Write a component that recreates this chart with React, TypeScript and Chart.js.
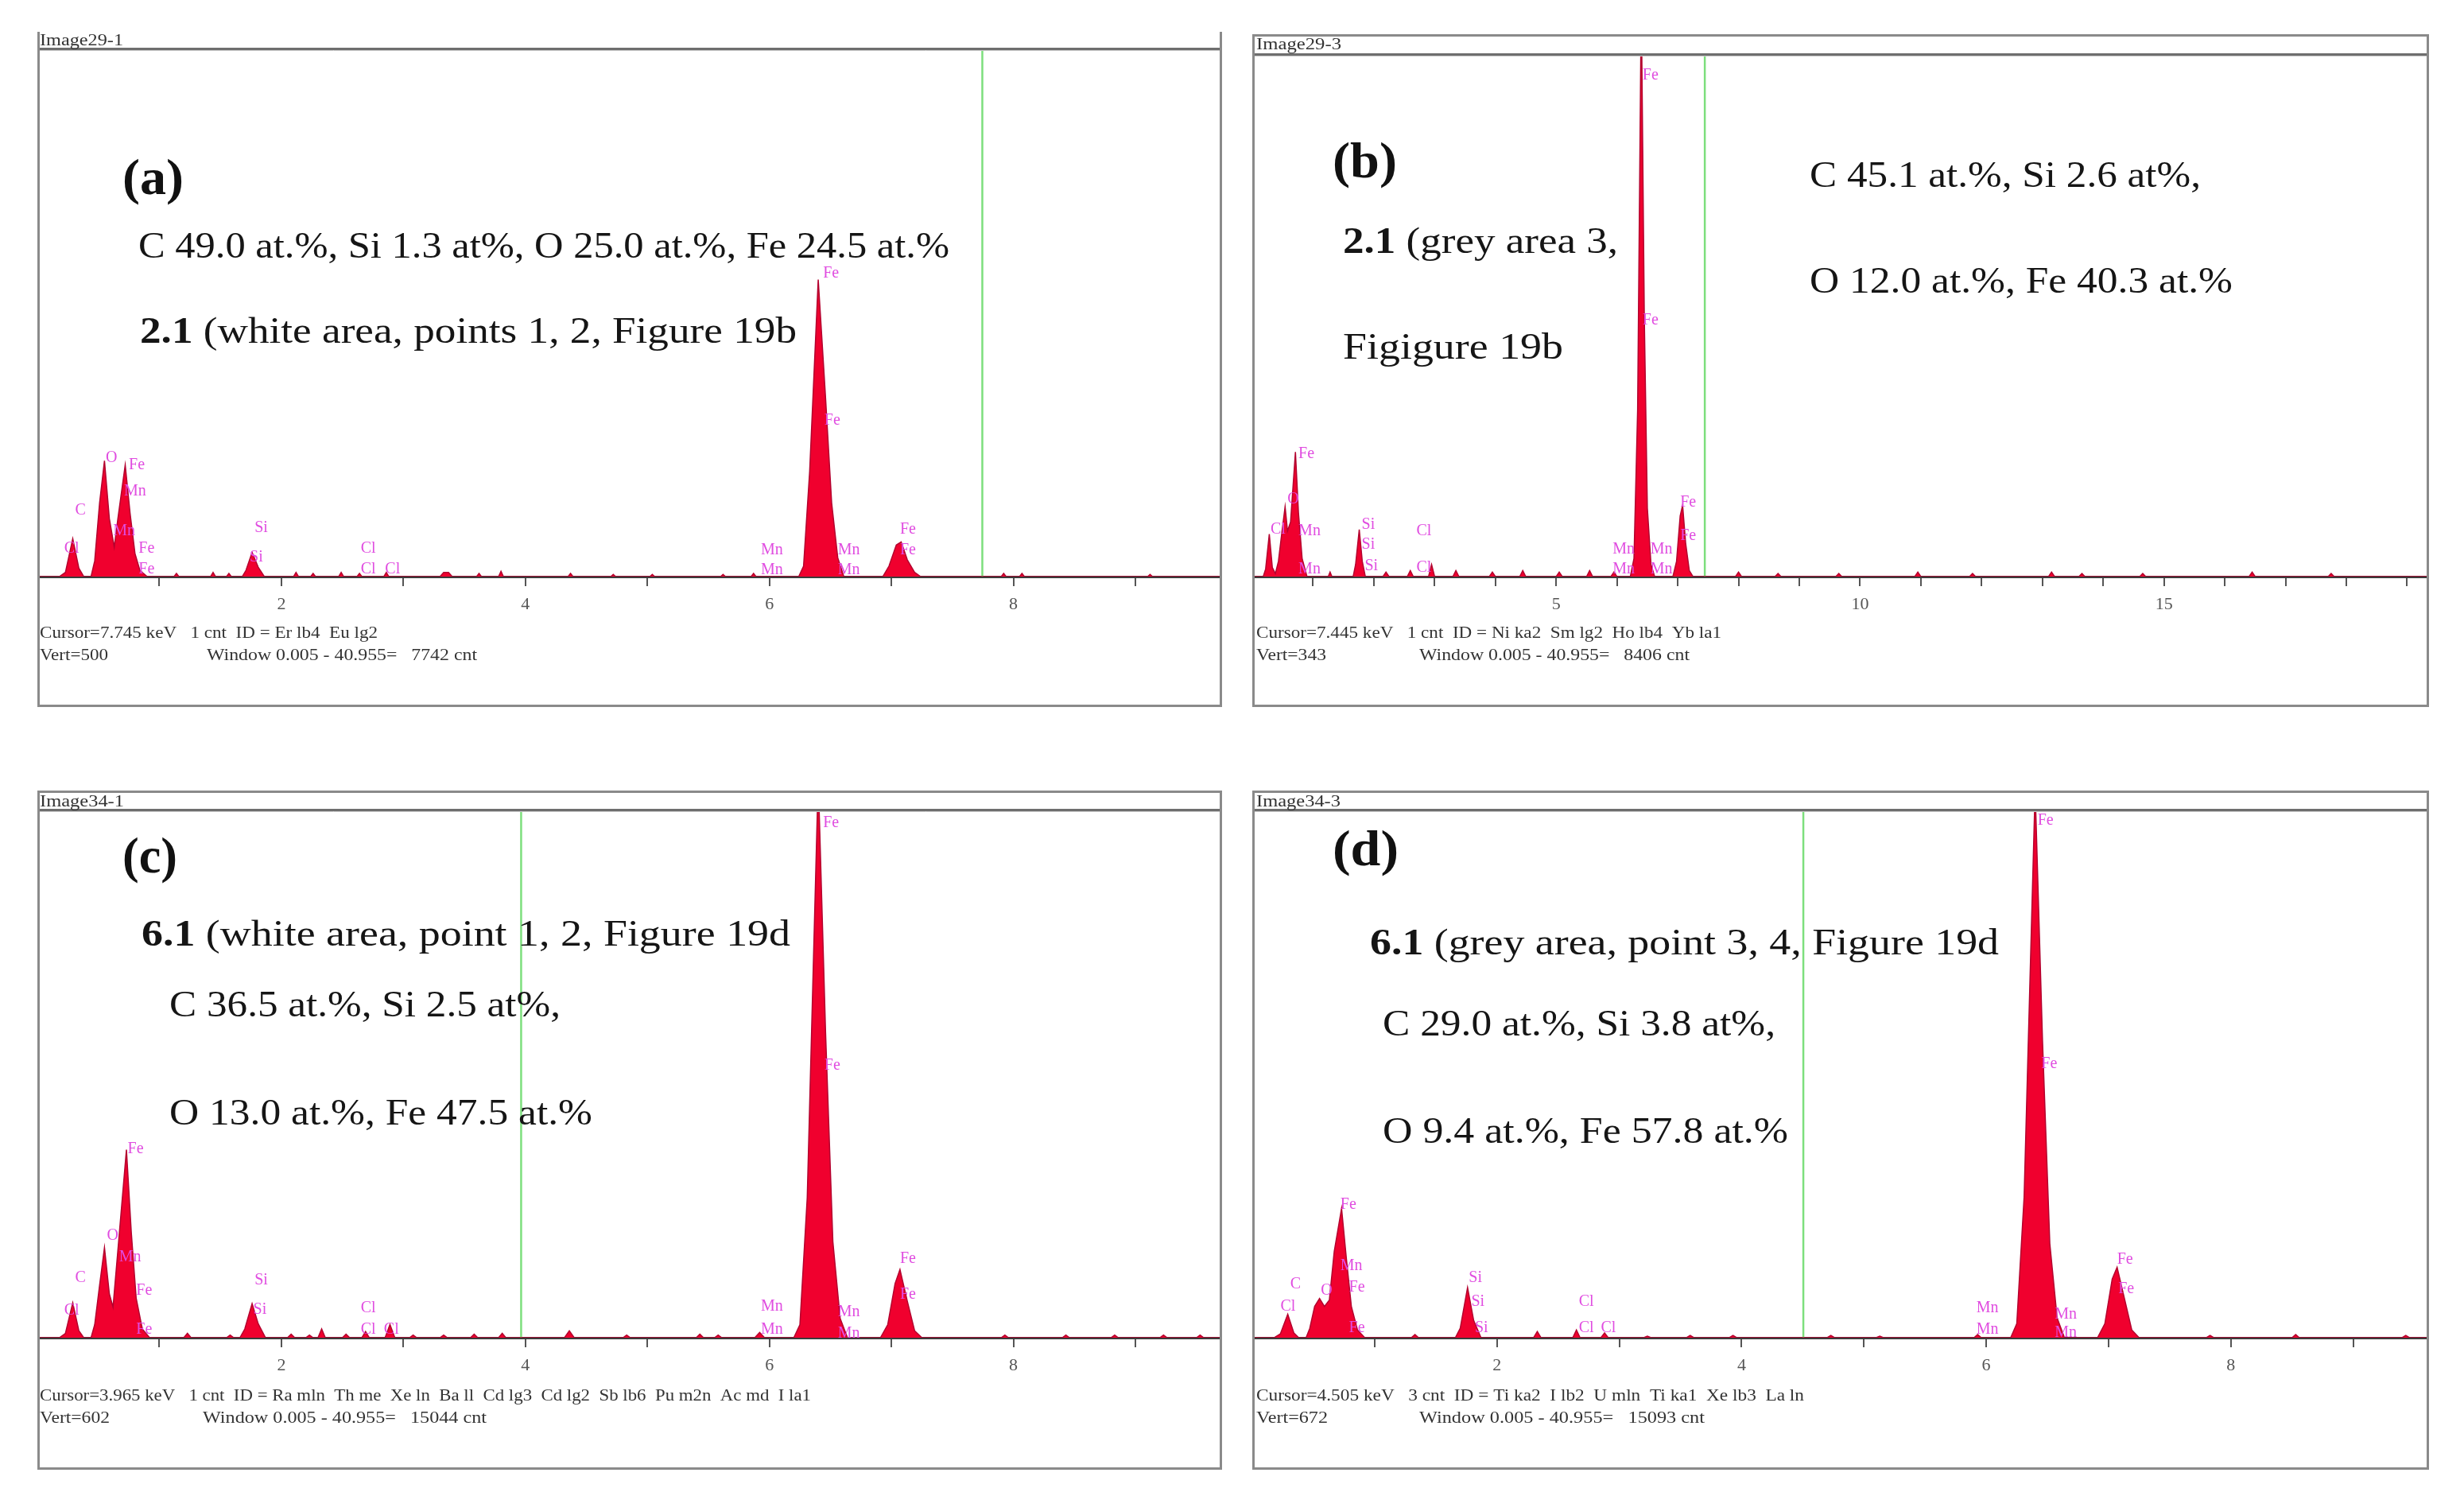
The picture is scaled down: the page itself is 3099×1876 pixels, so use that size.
import React, { useEffect, useRef } from "react";
import { Chart, registerables } from "chart.js";
Chart.register(...registerables);

type Pt = [number, number];
type Lbl = [string, number, number];
type Part = [string, boolean];

// ---------------- DATA ----------------
const spectrumA: Pt[] = [
  [0, 0], [0.18, 0], [0.23, 4], [0.29, 36], [0.34, 8], [0.38, 0],
  [0.44, 0], [0.47, 15], [0.51, 70], [0.55, 110], [0.59, 55], [0.63, 28], [0.66, 55], [0.72, 106], [0.76, 60], [0.8, 22], [0.84, 6], [0.9, 0],
  [1.12, 0], [1.14, 3], [1.16, 0], [1.42, 0], [1.44, 4], [1.46, 0], [1.55, 0], [1.57, 3], [1.59, 0],
  [1.68, 0], [1.71, 6], [1.76, 23], [1.81, 9], [1.86, 0],
  [2.1, 0], [2.12, 4], [2.14, 0], [2.24, 0], [2.26, 3], [2.28, 0], [2.47, 0], [2.49, 4], [2.51, 0], [2.62, 0], [2.64, 3], [2.66, 0], [2.84, 0], [2.86, 4], [2.88, 0],
  [3.3, 0], [3.33, 4], [3.37, 4], [3.4, 0], [3.6, 0], [3.62, 3], [3.64, 0], [3.78, 0], [3.8, 5], [3.82, 0], [4.35, 0], [4.37, 3], [4.39, 0],
  [4.7, 0], [4.72, 2], [4.74, 0], [5.02, 0], [5.04, 2], [5.06, 0], [5.6, 0], [5.62, 2], [5.64, 0], [5.85, 0], [5.87, 3], [5.89, 0],
  [6.24, 0], [6.28, 10], [6.33, 100], [6.4, 282], [6.46, 170], [6.51, 70], [6.56, 18], [6.61, 0],
  [6.93, 0], [6.98, 10], [7.04, 30], [7.08, 33], [7.13, 16], [7.19, 4], [7.24, 0],
  [7.9, 0], [7.92, 3], [7.94, 0], [8.05, 0], [8.07, 3], [8.09, 0], [9.1, 0], [9.12, 2], [9.14, 0], [9.71, 0],
];

const spectrumB: Pt[] = [
  [0, 0], [0.18, 0], [0.22, 5], [0.28, 28], [0.33, 6], [0.38, 2], [0.43, 10], [0.49, 30], [0.54, 46], [0.58, 30], [0.63, 36], [0.71, 82], [0.76, 42], [0.82, 12], [0.9, 0],
  [1.25, 0], [1.28, 3], [1.31, 0],
  [1.66, 0], [1.7, 8], [1.76, 31], [1.81, 10], [1.86, 0],
  [2.15, 0], [2.2, 3], [2.25, 0], [2.55, 0], [2.6, 4], [2.65, 0], [2.9, 0], [2.95, 8], [3.0, 0], [3.3, 0], [3.35, 4], [3.4, 0],
  [3.9, 0], [3.95, 3], [4.0, 0], [4.4, 0], [4.45, 4], [4.5, 0], [5.0, 0], [5.05, 3], [5.1, 0], [5.5, 0], [5.55, 4], [5.6, 0], [5.9, 0], [5.95, 3], [6.0, 0],
  [6.22, 0], [6.28, 12], [6.34, 110], [6.4, 380], [6.45, 170], [6.5, 45], [6.56, 8], [6.62, 0],
  [6.92, 0], [6.98, 10], [7.04, 40], [7.08, 47], [7.13, 22], [7.19, 4], [7.25, 0],
  [7.95, 0], [8.0, 3], [8.05, 0], [8.6, 0], [8.65, 2], [8.7, 0], [9.6, 0], [9.65, 2], [9.7, 0], [10.9, 0], [10.95, 3], [11.0, 0],
  [11.8, 0], [11.85, 2], [11.9, 0], [13.1, 0], [13.15, 3], [13.2, 0], [13.6, 0], [13.65, 2], [13.7, 0], [14.6, 0], [14.65, 2], [14.7, 0],
  [16.4, 0], [16.45, 3], [16.5, 0], [17.7, 0], [17.75, 2], [17.8, 0], [19.36, 0],
];

const spectrumC: Pt[] = [
  [0, 0], [0.18, 0], [0.23, 5], [0.29, 40], [0.34, 8], [0.38, 0],
  [0.44, 0], [0.47, 15], [0.51, 60], [0.55, 103], [0.59, 50], [0.62, 35], [0.66, 100], [0.73, 215], [0.77, 120], [0.81, 45], [0.86, 10], [0.92, 0],
  [1.2, 0], [1.23, 5], [1.26, 0], [1.55, 0], [1.58, 3], [1.61, 0],
  [1.66, 0], [1.7, 10], [1.76, 39], [1.81, 16], [1.87, 0],
  [2.05, 0], [2.08, 4], [2.11, 0], [2.2, 0], [2.23, 3], [2.26, 0], [2.3, 0], [2.33, 10], [2.36, 0], [2.5, 0], [2.53, 4], [2.56, 0],
  [2.66, 0], [2.69, 7], [2.72, 0], [2.85, 0], [2.89, 15], [2.93, 0], [3.05, 0], [3.08, 3], [3.11, 0],
  [3.3, 0], [3.33, 3], [3.36, 0], [3.55, 0], [3.58, 4], [3.61, 0], [3.78, 0], [3.81, 5], [3.84, 0], [4.32, 0], [4.36, 8], [4.4, 0],
  [4.8, 0], [4.83, 3], [4.86, 0], [5.4, 0], [5.43, 4], [5.46, 0], [5.55, 0], [5.58, 3], [5.61, 0], [5.88, 0], [5.92, 6], [5.96, 0],
  [6.2, 0], [6.25, 15], [6.31, 160], [6.4, 640], [6.46, 350], [6.52, 110], [6.58, 22], [6.64, 0],
  [6.91, 0], [6.97, 15], [7.03, 62], [7.07, 78], [7.13, 42], [7.19, 8], [7.25, 0],
  [7.9, 0], [7.93, 3], [7.96, 0], [8.4, 0], [8.43, 3], [8.46, 0], [8.8, 0], [8.83, 3], [8.86, 0], [9.2, 0], [9.23, 3], [9.26, 0], [9.5, 0], [9.53, 3], [9.56, 0], [9.71, 0],
];

const spectrumD: Pt[] = [
  [0, 0], [0.18, 0], [0.23, 5], [0.29, 30], [0.34, 6], [0.38, 0],
  [0.44, 0], [0.47, 12], [0.51, 40], [0.55, 50], [0.59, 40], [0.63, 48], [0.67, 110], [0.73, 165], [0.77, 100], [0.81, 40], [0.86, 10], [0.92, 0],
  [1.3, 0], [1.33, 4], [1.36, 0],
  [1.66, 0], [1.7, 12], [1.76, 64], [1.81, 22], [1.87, 0],
  [2.3, 0], [2.33, 8], [2.36, 0], [2.62, 0], [2.65, 10], [2.68, 0], [2.85, 0], [2.88, 6], [2.91, 0],
  [3.2, 0], [3.23, 2], [3.26, 0], [3.55, 0], [3.58, 3], [3.61, 0], [3.9, 0], [3.93, 3], [3.96, 0], [4.7, 0], [4.73, 3], [4.76, 0],
  [5.1, 0], [5.13, 2], [5.16, 0], [5.9, 0], [5.93, 4], [5.96, 0],
  [6.2, 0], [6.25, 18], [6.31, 180], [6.4, 700], [6.46, 380], [6.52, 120], [6.58, 25], [6.64, 0],
  [6.91, 0], [6.97, 18], [7.03, 75], [7.07, 90], [7.13, 50], [7.19, 10], [7.25, 0],
  [7.8, 0], [7.83, 3], [7.86, 0], [8.5, 0], [8.53, 4], [8.56, 0], [9.4, 0], [9.43, 3], [9.46, 0], [9.62, 0],
];

// element labels: [text, keV, counts]
const peakLabelsA: Lbl[] = [
  ["C", 0.31, 63], ["Cl", 0.22, 27], ["O", 0.56, 113], ["Fe", 0.75, 106], ["Mn", 0.71, 81], ["Mn", 0.62, 43],
  ["Fe", 0.83, 27], ["Fe", 0.83, 7], ["Si", 1.78, 46], ["Si", 1.74, 18], ["Cl", 2.65, 27], ["Cl", 2.65, 7], ["Cl", 2.85, 7],
  ["Mn", 5.93, 25], ["Mn", 5.93, 6], ["Fe", 6.44, 288], ["Fe", 6.45, 148], ["Mn", 6.56, 25], ["Mn", 6.56, 6],
  ["Fe", 7.07, 45], ["Fe", 7.07, 25],
];
const peakLabelsB: Lbl[] = [
  ["Fe", 6.42, 330], ["Fe", 6.42, 169], ["Fe", 0.76, 81], ["O", 0.58, 51], ["Cl", 0.3, 31], ["Mn", 0.76, 30], ["Mn", 0.76, 5],
  ["Si", 1.8, 34], ["Si", 1.8, 21], ["Si", 1.85, 7], ["Cl", 2.7, 30], ["Cl", 2.7, 6],
  ["Mn", 5.93, 18], ["Mn", 5.93, 5], ["Mn", 6.55, 18], ["Mn", 6.55, 5], ["Fe", 7.04, 49], ["Fe", 7.04, 27],
];
const peakLabelsC: Lbl[] = [
  ["Fe", 6.44, 589], ["Fe", 6.45, 311], ["Fe", 0.74, 216], ["O", 0.57, 117], ["Mn", 0.67, 92], ["C", 0.31, 68], ["Cl", 0.22, 31],
  ["Fe", 0.81, 54], ["Fe", 0.81, 9], ["Si", 1.78, 66], ["Si", 1.77, 32], ["Cl", 2.65, 34], ["Cl", 2.65, 9], ["Cl", 2.84, 9],
  ["Mn", 5.93, 36], ["Mn", 5.93, 9], ["Mn", 6.56, 29], ["Mn", 6.56, 5], ["Fe", 7.07, 90], ["Fe", 7.07, 49],
];
const peakLabelsD: Lbl[] = [
  ["Fe", 6.42, 660], ["Fe", 6.45, 349], ["Fe", 0.72, 170], ["Mn", 0.72, 92], ["Fe", 0.79, 64], ["O", 0.56, 60], ["C", 0.31, 68],
  ["Cl", 0.23, 40], ["Fe", 0.79, 12], ["Si", 1.77, 76], ["Si", 1.79, 46], ["Si", 1.82, 12], ["Cl", 2.67, 46], ["Cl", 2.67, 12],
  ["Cl", 2.85, 12], ["Mn", 5.92, 38], ["Mn", 5.92, 10], ["Mn", 6.56, 30], ["Mn", 6.56, 6], ["Fe", 7.07, 100], ["Fe", 7.08, 62],
];

const vertCounts = [500, 343, 602, 672];
const cursorKeV = [7.745, 7.445, 3.965, 4.505];
const energyMax = [9.71, 19.36, 9.71, 9.62];
const tickLabelEvery = [2, 5, 2, 2];
const imageNames = ["Image29-1", "Image29-3", "Image34-1", "Image34-3"];
const panelLetters = ["(a)", "(b)", "(c)", "(d)"];
const cursorLines = [
  "Cursor=7.745 keV   1 cnt  ID = Er lb4  Eu lg2",
  "Cursor=7.445 keV   1 cnt  ID = Ni ka2  Sm lg2  Ho lb4  Yb la1",
  "Cursor=3.965 keV   1 cnt  ID = Ra mln  Th me  Xe ln  Ba ll  Cd lg3  Cd lg2  Sb lb6  Pu m2n  Ac md  I la1",
  "Cursor=4.505 keV   3 cnt  ID = Ti ka2  I lb2  U mln  Ti ka1  Xe lb3  La ln",
];
const vertLines = ["Vert=500", "Vert=343", "Vert=602", "Vert=672"];
const windowLines = [
  "Window 0.005 - 40.955=   7742 cnt",
  "Window 0.005 - 40.955=   8406 cnt",
  "Window 0.005 - 40.955=   15044 cnt",
  "Window 0.005 - 40.955=   15093 cnt",
];
const notesA: Part[][] = [
  [["C 49.0 at.%, Si 1.3 at%, O 25.0 at.%, Fe 24.5 at.%", false]],
  [["2.1", true], [" (white area, points 1, 2, Figure 19b", false]],
];
const notesB: Part[][] = [
  [["C 45.1 at.%, Si 2.6 at%,", false]],
  [["O 12.0 at.%, Fe 40.3 at.%", false]],
  [["2.1", true], [" (grey area 3,", false]],
  [["Figigure 19b", false]],
];
const notesC: Part[][] = [
  [["6.1", true], [" (white area, point 1, 2, Figure 19d", false]],
  [["C 36.5 at.%, Si 2.5 at%,", false]],
  [["O 13.0 at.%, Fe 47.5 at.%", false]],
];
const notesD: Part[][] = [
  [["6.1", true], [" (grey area, point 3, 4, Figure 19d", false]],
  [["C 29.0 at.%, Si 3.8 at%,", false]],
  [["O 9.4 at.%, Fe 57.8 at.%", false]],
];

const spectra = [spectrumA, spectrumB, spectrumC, spectrumD];
const peakLabels = [peakLabelsA, peakLabelsB, peakLabelsC, peakLabelsD];
const notes = [notesA, notesB, notesC, notesD];

// ---------------- LAYOUT ----------------
type Box = { x: number; y: number; w: number };
type PanelLayout = {
  left: number; top: number; width: number; height: number; plotTop: number; plotBottom: number; topBorder: boolean;
  name: Box; letter: Box; notes: Box[]; cursor: Box; vert: Box; win: Box;
};
const LAYOUT: PanelLayout[] = [
  {
    left: 47, top: 40, width: 1490, height: 849, plotTop: 23, plotBottom: 685, topBorder: false,
    name: { x: 3, y: 12, w: 105 }, letter: { x: 107, y: 187, w: 77 },
    notes: [{ x: 127, y: 272, w: 1020 }, { x: 129, y: 379, w: 826 }],
    cursor: { x: 3, y: 757, w: 425 }, vert: { x: 3, y: 785, w: 86 }, win: { x: 213, y: 785, w: 340 },
  },
  {
    left: 1575, top: 43, width: 1480, height: 846, plotTop: 27, plotBottom: 682, topBorder: true,
    name: { x: 5, y: 14, w: 107 }, letter: { x: 101, y: 163, w: 81 },
    notes: [{ x: 701, y: 180, w: 492 }, { x: 701, y: 313, w: 532 }, { x: 114, y: 263, w: 346 }, { x: 114, y: 396, w: 277 }],
    cursor: { x: 5, y: 754, w: 585 }, vert: { x: 5, y: 782, w: 88 }, win: { x: 210, y: 782, w: 340 },
  },
  {
    left: 47, top: 994, width: 1490, height: 854, plotTop: 26, plotBottom: 688, topBorder: true,
    name: { x: 3, y: 15, w: 106 }, letter: { x: 107, y: 86, w: 69 },
    notes: [{ x: 131, y: 183, w: 816 }, { x: 166, y: 272, w: 492 }, { x: 166, y: 408, w: 532 }],
    cursor: { x: 3, y: 762, w: 970 }, vert: { x: 3, y: 790, w: 88 }, win: { x: 208, y: 790, w: 357 },
  },
  {
    left: 1575, top: 994, width: 1480, height: 854, plotTop: 26, plotBottom: 688, topBorder: true,
    name: { x: 5, y: 15, w: 106 }, letter: { x: 101, y: 77, w: 83 },
    notes: [{ x: 148, y: 194, w: 791 }, { x: 164, y: 296, w: 494 }, { x: 164, y: 431, w: 510 }],
    cursor: { x: 5, y: 762, w: 689 }, vert: { x: 5, y: 790, w: 90 }, win: { x: 210, y: 790, w: 359 },
  },
];

const AXIS_H = 60;
const SERIF = '"Liberation Serif", "DejaVu Serif", serif';

function drawParts(ctx: CanvasRenderingContext2D, parts: Part[], box: Box, size: number, color: string) {
  ctx.save();
  ctx.textBaseline = "middle";
  ctx.textAlign = "left";
  ctx.fillStyle = color;
  let w = 0;
  for (const [t, b] of parts) {
    ctx.font = `${b ? "bold " : ""}${size}px ${SERIF}`;
    w += ctx.measureText(t).width;
  }
  const s = box.w / w;
  ctx.translate(box.x, box.y);
  ctx.scale(s, 1);
  let cx = 0;
  for (const [t, b] of parts) {
    ctx.font = `${b ? "bold " : ""}${size}px ${SERIF}`;
    ctx.fillText(t, cx, 0);
    cx += ctx.measureText(t).width;
  }
  ctx.restore();
}

function makeOverlay(idx: number) {
  const L = LAYOUT[idx];
  return {
    id: "edsOverlay" + idx,
    afterDatasetsDraw(chart: any) {
      const ctx: CanvasRenderingContext2D = chart.ctx;
      const xs = chart.scales.x;
      const ys = chart.scales.y;
      ctx.save();
      ctx.fillStyle = "#e04ce0";
      ctx.font = `20px ${SERIF}`;
      ctx.textBaseline = "middle";
      ctx.textAlign = "left";
      for (const [t, e, c] of peakLabels[idx]) {
        ctx.fillText(t, xs.getPixelForValue(e), ys.getPixelForValue(c));
      }
      ctx.restore();
    },
    afterDraw(chart: any) {
      const ctx: CanvasRenderingContext2D = chart.ctx;
      const W = L.width;
      const H = L.height;
      ctx.save();
      ctx.strokeStyle = "#6e6e6e";
      ctx.lineWidth = 3;
      ctx.beginPath();
      ctx.moveTo(0, L.plotTop - 1.5);
      ctx.lineTo(W, L.plotTop - 1.5);
      ctx.stroke();
      ctx.strokeStyle = "#c8c8c8";
      ctx.lineWidth = 1;
      ctx.beginPath();
      ctx.moveTo(0, L.plotTop + 0.5);
      ctx.lineTo(W, L.plotTop + 0.5);
      ctx.stroke();
      ctx.strokeStyle = "#8a8a8a";
      ctx.lineWidth = 3;
      ctx.beginPath();
      ctx.moveTo(1.5, 0); ctx.lineTo(1.5, H);
      ctx.moveTo(W - 1.5, 0); ctx.lineTo(W - 1.5, H);
      ctx.moveTo(0, H - 1.5); ctx.lineTo(W, H - 1.5);
      if (L.topBorder) { ctx.moveTo(0, 1.5); ctx.lineTo(W, 1.5); }
      ctx.stroke();
      ctx.restore();
      drawParts(ctx, [[imageNames[idx], false]], L.name, 20, "#333");
      drawParts(ctx, [[panelLetters[idx], true]], L.letter, 64, "#111");
      notes[idx].forEach((parts, i) => drawParts(ctx, parts, L.notes[i], 46, "#151515"));
      drawParts(ctx, [[cursorLines[idx], false]], L.cursor, 20, "#333");
      drawParts(ctx, [[vertLines[idx], false]], L.vert, 20, "#333");
      drawParts(ctx, [[windowLines[idx], false]], L.win, 20, "#333");
    },
  };
}

function Panel({ idx }: { idx: number }) {
  const ref = useRef<HTMLCanvasElement>(null);
  const L = LAYOUT[idx];
  useEffect(() => {
    const chart = new Chart(ref.current as HTMLCanvasElement, {
      type: "line",
      data: {
        datasets: [
          {
            data: spectra[idx].map(([x, y]) => ({ x, y })),
            borderColor: "#b4002e",
            borderWidth: 1.5,
            backgroundColor: "#f0002e",
            fill: "origin",
            pointRadius: 0,
            tension: 0,
          },
          {
            data: [{ x: cursorKeV[idx], y: 0 }, { x: cursorKeV[idx], y: vertCounts[idx] }],
            borderColor: "#7ddf7d",
            borderWidth: 2.5,
            pointRadius: 0,
            fill: false,
          },
        ],
      } as any,
      options: {
        responsive: false,
        animation: false,
        events: [],
        layout: { padding: { left: 0, right: 0, top: L.plotTop, bottom: L.height - L.plotBottom - AXIS_H } },
        plugins: { legend: { display: false }, tooltip: { enabled: false } },
        scales: {
          x: {
            type: "linear",
            min: 0,
            max: energyMax[idx],
            z: 1,
            afterFit: (s: any) => { s.height = AXIS_H; s.paddingLeft = 0; s.paddingRight = 0; },
            ticks: {
              stepSize: 1,
              includeBounds: false,
              autoSkip: false,
              maxRotation: 0,
              padding: 10,
              color: "#555",
              font: { family: SERIF, size: 22 },
              callback: (v: any) => (v > 0 && v % tickLabelEvery[idx] === 0 ? String(v) : ""),
            },
            grid: { drawOnChartArea: false, drawTicks: true, tickLength: 12, color: "#555", lineWidth: 2 },
            border: { display: true, color: "#3c3c3c", width: 3 },
          },
          y: { display: false, min: 0, max: vertCounts[idx] },
        },
      } as any,
      plugins: [makeOverlay(idx)],
    });
    return () => chart.destroy();
  }, [idx]);
  return (
    <canvas
      ref={ref}
      width={L.width}
      height={L.height}
      style={{ position: "absolute", left: L.left, top: L.top, width: L.width, height: L.height }}
    />
  );
}

export default function App() {
  return (
    <div style={{ position: "absolute", left: 0, top: 0, width: 3099, height: 1876, background: "#fff", overflow: "hidden" }}>
      {[0, 1, 2, 3].map((i) => (
        <Panel key={i} idx={i} />
      ))}
    </div>
  );
}
